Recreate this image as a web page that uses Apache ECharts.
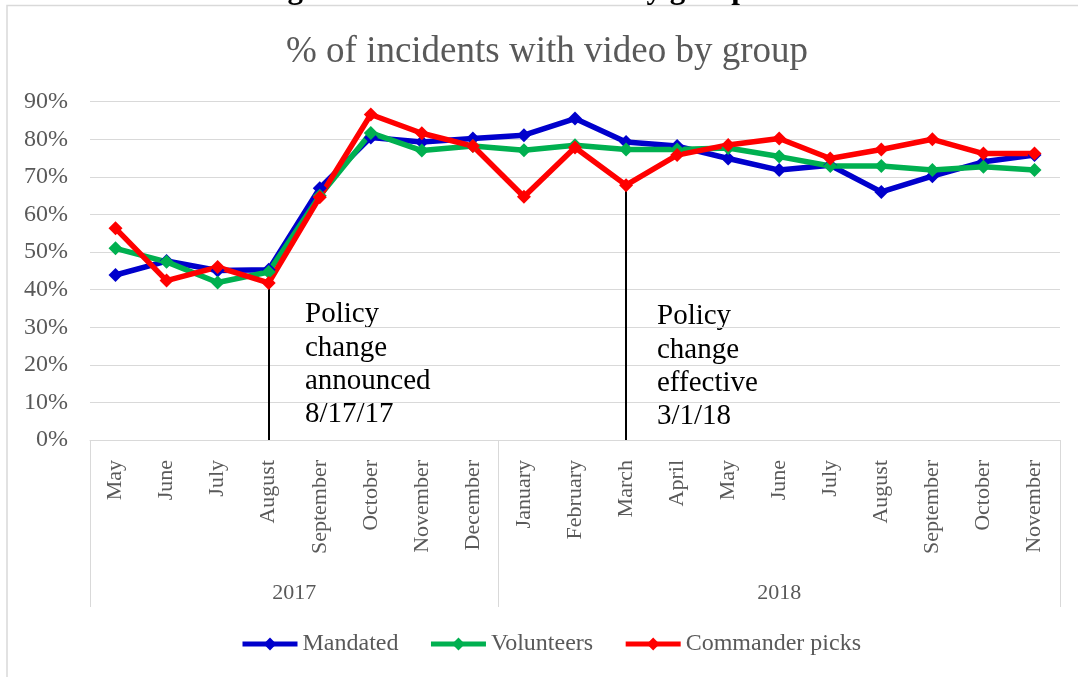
<!DOCTYPE html>
<html>
<head>
<meta charset="utf-8">
<script src="https://cdn.jsdelivr.net/npm/echarts@6/dist/echarts.min.js"></script>
<style>
  html, body { margin: 0; padding: 0; background: #ffffff; }
  #chart { width: 1078px; height: 677px; }
</style>
</head>
<body>
<div id="chart"></div>
<script>
// Months shown on the category axis (May 2017 – November 2018)
const months = ['May', 'June', 'July', 'August', 'September', 'October', 'November', 'December',
  'January', 'February', 'March', 'April', 'May', 'June', 'July', 'August', 'September', 'October', 'November'];

// Year groups under the month labels, with how many months each covers
const years = ['2017', '2018'];
const monthsPerYear = [8, 11];

// % of incidents with video
const mandated   = [43.9, 47.6, 45.1, 45.3, 67.0, 80.5, 79.3, 80.2, 81.1, 85.5, 79.3, 78.2, 74.9, 71.8, 73.1, 66.0, 70.2, 74.0, 75.8];
const volunteers = [51.0, 47.4, 41.9, 44.7, 65.0, 81.7, 77.0, 78.2, 77.1, 78.4, 77.3, 77.3, 77.7, 75.4, 72.9, 72.9, 71.8, 72.7, 71.8];
const commander  = [56.3, 42.4, 46.0, 41.8, 64.6, 86.6, 81.6, 78.2, 64.7, 77.8, 67.8, 75.8, 78.5, 80.2, 74.9, 77.3, 80.0, 76.2, 76.2];

// Y axis ticks (percent)
const yTicks = { min: 0, max: 90, step: 10 };

// Policy events, pinned to a month index
const events = [
  { month: 3,  text: 'Policy\nchange\nannounced\n8/17/17' },
  { month: 10, text: 'Policy\nchange\neffective\n3/1/18' }
];

// Year band boundaries and centres, in month units
const yearEdges = [0];
monthsPerYear.forEach(n => yearEdges.push(yearEdges[yearEdges.length - 1] + n));
const yearCentres = years.map((y, i) => (yearEdges[i] + yearEdges[i + 1]) / 2);

const SERIF = '"Liberation Serif", "Times New Roman", serif';
const GREY_TEXT = '#595959';
const GRID_LINE = '#d9d9d9';

const chart = echarts.init(document.getElementById('chart'), null, { renderer: 'canvas' });

function lineSeries(name, data, color) {
  return {
    name: name,
    type: 'line',
    data: data,
    xAxisIndex: 0,
    yAxisIndex: 0,
    symbol: 'diamond',
    symbolSize: 14,
    lineStyle: { color: color, width: 5.5 },
    itemStyle: { color: color },
    z: 3
  };
}

const red = lineSeries('Commander picks', commander, '#ff0000');
red.markLine = {
  silent: true,
  symbol: 'none',
  label: { show: false },
  lineStyle: { color: '#000000', width: 2, type: 'solid' },
  z: 1,
  data: events.map(e => [
    { coord: [e.month, commander[e.month]] },
    { coord: [e.month, 0] }
  ])
};

const option = {
  animation: false,
  backgroundColor: '#ffffff',
  grid: { left: 90, right: 18, top: 101.7, bottom: 237, containLabel: false },
  xAxis: [
    {
      type: 'category',
      data: months,
      boundaryGap: true,
      axisLine: { show: true, lineStyle: { color: GRID_LINE, width: 1 } },
      axisTick: { show: false },
      axisLabel: {
        rotate: 90,
        margin: 20,
        color: GREY_TEXT,
        fontFamily: SERIF,
        fontSize: 22,
        interval: 0
      },
      splitLine: { show: false }
    },
    {
      type: 'value',
      position: 'bottom',
      min: 0,
      max: months.length,
      axisLine: { show: false },
      axisTick: {
        show: true,
        customValues: yearEdges,
        length: 167,
        lineStyle: { color: GRID_LINE, width: 1 }
      },
      axisLabel: {
        show: true,
        customValues: yearCentres,
        margin: 142,
        color: GREY_TEXT,
        fontFamily: SERIF,
        fontSize: 22,
        formatter: v => years[yearCentres.indexOf(v)] || ''
      },
      splitLine: { show: false }
    }
  ],
  yAxis: {
    type: 'value',
    min: yTicks.min,
    max: yTicks.max,
    interval: yTicks.step,
    axisLine: { show: false },
    axisTick: { show: false },
    axisLabel: {
      formatter: '{value}%',
      margin: 22,
      color: GREY_TEXT,
      fontFamily: SERIF,
      fontSize: 24
    },
    splitLine: { show: true, lineStyle: { color: GRID_LINE, width: 1 } }
  },
  legend: {
    top: 632,
    left: 240,
    padding: 0,
    itemWidth: 55,
    itemHeight: 16,
    itemGap: 30,
    lineStyle: { width: 5 },
    textStyle: { color: GREY_TEXT, fontFamily: SERIF, fontSize: 24 },
    data: ['Mandated', 'Volunteers', 'Commander picks']
  },
  series: [
    lineSeries('Mandated', mandated, '#0000cc'),
    lineSeries('Volunteers', volunteers, '#00b050'),
    red
  ],
  graphic: [
    // chart area border
    {
      type: 'rect',
      shape: { x: 7, y: 5.5, width: 1200, height: 800 },
      style: { fill: 'none', stroke: GRID_LINE, lineWidth: 1.5 },
      silent: true,
      z: -10
    },
    // document heading sitting just above the chart frame
    {
      type: 'text',
      x: 171,
      y: 5,
      style: {
        text: 'Percentage of incidents with video by group',
        font: 'bold 31px ' + SERIF,
        fill: '#000000',
        textAlign: 'left',
        textVerticalAlign: 'bottom'
      },
      silent: true
    },
    {
      type: 'text',
      x: 547,
      y: 52,
      style: {
        text: '% of incidents with video by group',
        font: '37px ' + SERIF,
        fill: GREY_TEXT,
        textAlign: 'center',
        textVerticalAlign: 'middle'
      },
      silent: true
    },
    {
      type: 'text',
      x: 305,
      y: 298,
      style: {
        text: events[0].text,
        font: '29px ' + SERIF,
        lineHeight: 33.3,
        fill: '#000000',
        textAlign: 'left',
        textVerticalAlign: 'top'
      },
      silent: true
    },
    {
      type: 'text',
      x: 657,
      y: 300,
      style: {
        text: events[1].text,
        font: '29px ' + SERIF,
        lineHeight: 33.3,
        fill: '#000000',
        textAlign: 'left',
        textVerticalAlign: 'top'
      },
      silent: true
    }
  ]
};

chart.setOption(option);
</script>
</body>
</html>
